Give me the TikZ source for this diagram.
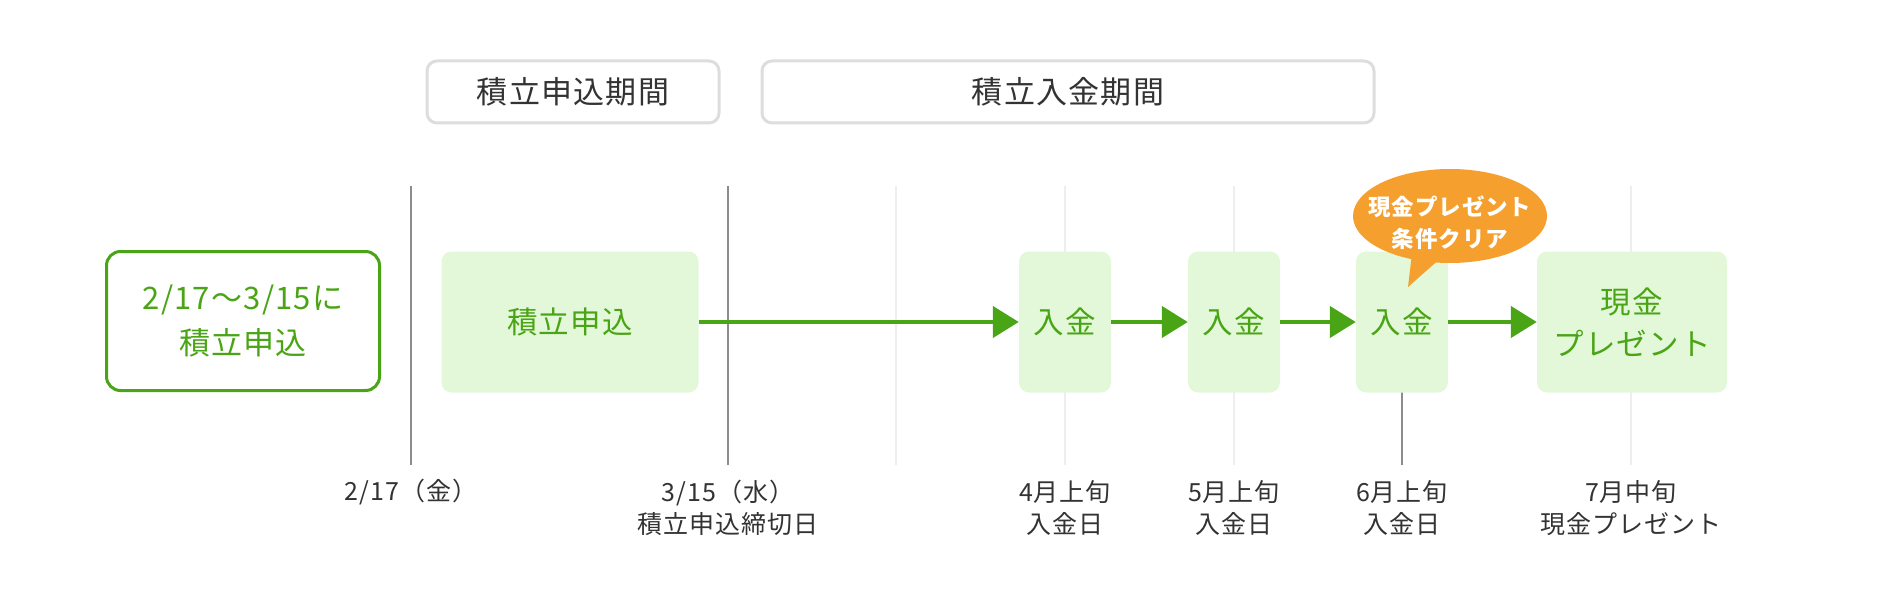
\documentclass[tikz,border=0pt]{standalone}
\usepackage{fontspec}
\setmainfont{Noto Sans CJK JP}[LetterSpace=4]
\usetikzlibrary{arrows.meta,shapes.callouts}
\definecolor{leafgreen}{HTML}{4AA516}
\definecolor{leaffill}{HTML}{E3F8D8}
\definecolor{sunorange}{HTML}{F59F2E}
\definecolor{framegray}{HTML}{DDDDDD}
\definecolor{rulegray}{HTML}{8C8C8C}
\definecolor{paleline}{HTML}{EEEEEE}
\definecolor{inkgray}{HTML}{333333}
\begin{document}
\begin{tikzpicture}[x=1pt,y=-1pt]
        \tikzstyle{period}=[draw=framegray,line width=3pt,rounded corners=10pt,fill=white,minimum height=62pt,inner sep=0pt,text=inkgray,font=\fontsize{31}{32}\selectfont]
        \tikzstyle{entry}=[draw=leafgreen,line width=3pt,rounded corners=14pt,fill=white,minimum width=273pt,minimum height=139pt,inner sep=0pt,align=center,text=leafgreen,font=\fontsize{31}{45}\selectfont]
        \tikzstyle{stage}=[fill=leaffill,rounded corners=10pt,minimum height=141pt,inner sep=0pt,align=center,text=leafgreen,font=\fontsize{30.5}{42}\selectfont]
        \tikzstyle{flow}=[color=leafgreen,line width=4.5pt,-{Triangle[length=26pt,width=31pt]}]
        \tikzstyle{bubble}=[ellipse callout,fill=sunorange,minimum width=194pt,minimum height=94pt,inner sep=0pt]
        \tikzstyle{bubbletext}=[text=white,align=center,inner sep=0pt,font=\fontsize{22.5}{32}\selectfont\bfseries]
        \tikzstyle{datelabel}=[text=inkgray,align=center,inner sep=0pt,font=\fontsize{25}{32}\selectfont]
       \useasboundingbox (0,0) rectangle (1881,604);
       \begin{scope}
         \foreach \x/\c in {411/rulegray,728/rulegray,896/paleline,1065/paleline,1234/paleline,1402/rulegray,1631/paleline}
           \draw[\c,line width=1.2pt] (\x,186) -- (\x,465);
         \node [period,minimum width=292pt] (p1) at (573,92) {積立申込期間};
         \node [period,minimum width=612pt] (p2) at (1068,92) {積立入金期間};
         \node [entry] (apply) at (243,321) {2/17～3/15に\\積立申込};
         \node [stage,minimum width=257pt] (s1) at (570,322) {積立申込};
         \node [stage,minimum width=92pt] (d1) at (1065,322) {入金};
         \node [stage,minimum width=92pt] (d2) at (1234,322) {入金};
         \node [stage,minimum width=92pt] (d3) at (1402,322) {入金};
         \node [stage,minimum width=190pt] (gift) at (1632,322) {現金\\プレゼント};
         \node [bubble,callout absolute pointer={(1408,287)},label={[bubbletext,yshift=-7pt]center:{現金プレゼント\\条件クリア}}] (clear) at (1450,216) {};
         \path[flow] (s1) edge (d1);
         \path[flow] (d1) edge (d2);
         \path[flow] (d2) edge (d3);
         \path[flow] (d3) edge (gift);
         \node [datelabel] (m1) at (411,492) {2/17（金）};
         \node [datelabel] (m2) at (728,508) {3/15（水）\\積立申込締切日};
         \node [datelabel] (m3) at (1065,508) {4月上旬\\入金日};
         \node [datelabel] (m4) at (1234,508) {5月上旬\\入金日};
         \node [datelabel] (m5) at (1402,508) {6月上旬\\入金日};
         \node [datelabel] (m6) at (1631,508) {7月中旬\\現金プレゼント};
       \end{scope}
\end{tikzpicture}
\end{document}
